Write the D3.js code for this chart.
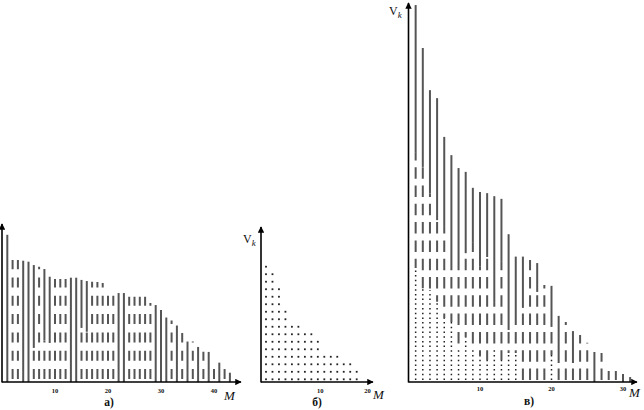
<!DOCTYPE html>
<html>
<head>
<meta charset="utf-8">
<script src="https://cdn.jsdelivr.net/npm/d3@7"></script>
<style>
body { margin: 0; background: #fff; }
svg { display: block; }
text { font-family: "Liberation Serif", "DejaVu Serif", serif; fill: #111; }
.tick { font-size: 6.5px; font-weight: bold; }
.mlab { font-size: 13px; font-style: italic; }
.plab { font-size: 11.5px; font-weight: bold; }
</style>
</head>
<body>
<svg id="chart" width="644" height="410"></svg>
<script>
// --- panel a) : top of each column (M = 1..43) and where the solid part starts (null = all dashed)
const aTop = [92, 76.3, 76.3, 75.8, 75.2, 73.1, 72, 70.6, 65.8, 64.4, 64.4, 64.4, 65.2, 65.2, 63.8,
  63.1, 62.7, 62.5, 61.9, 58.8, 57.5, 55.6, 55.6, 53.3, 53.3, 53.3, 53.3, 49.4, 48.1, 45,
  40.3, 38.4, 35.3, 30.6, 25.3, 25.3, 21.9, 18.9, 18.8, 8.1, 12.1, 8.1, 5.8];
const aSolidFrom = [0, null, null, 0, 0, 21.3, null, 26, 24.4, null, null, null, 0, 0, 33.8,
  31.4, null, null, null, null, null, 0, 0, null, null, null, null, null, 0, 0,
  0, null, 0, null, 0, null, 0, null, 0, null, 0, null, 0];
const aTicks = [10, 20, 30, 40];

// --- panel б) : number of dots in each column
const bCounts = [16, 15, 13, 10, 8, 8, 7, 7, 6, 4, 4, 4, 3, 3, 2];
const bRows = 16;
const bTicks = [10, 20];

// --- panel в) : top, start of solid part (null = no solid), top of dotted part (M = 1..31)
const vTop = [99.2, 87.9, 76.8, 74.7, 64.5, 59.7, 56.3, 55.3, 51.1, 50, 49.7, 48.9, 48.2, 38.9, 33,
  33, 32.1, 31.3, 25.5, 25.3, 17.4, 15.8, 13.4, 12.4, 10.3, 7.9, 7.6, 2.9, 2.9, 2.1, 1.3];
const vSolidFrom = [60.3, 56.6, 49.7, 42.6, 40.8, 32.1, 31.3, 33.9, 36.6, 30.3, 32.9, 20.8, 31.6, 13.7, 17.1,
  19.5, null, 23.7, null, 14.5, 5, null, 5, null, null, 0, null, null, null, 0, 0];
const vDotTop = [30, 24.7, 24.2, 21.1, 16.8, 15.8, 8.9, 11.8, 8.4, 7.1, 5.8, 8.9, 5.8, 7.6, 7.6,
  0, 0, 0, 0, 7.1, 0, 0, 0, 0, 0, 0, 0, 0, 0, 0, 0];
const vTicks = [10, 20, 30];

const svg = d3.select("#chart");
const base = 382;

svg.append("defs").append("marker")
    .attr("id", "arrow")
    .attr("viewBox", "0 0 10 10")
    .attr("refX", 9).attr("refY", 5)
    .attr("markerWidth", 4.5).attr("markerHeight", 4)
    .attr("orient", "auto")
  .append("path")
    .attr("d", "M0,0L10,5L0,10z")
    .attr("fill", "#000");

function drawAxes(g, x0, xEnd, yTop) {
    g.append("line")
        .attr("x1", x0).attr("y1", base + 0.5).attr("x2", x0).attr("y2", yTop)
        .attr("stroke", "#000").attr("stroke-width", 1.6)
        .attr("marker-end", "url(#arrow)");
    g.append("line")
        .attr("x1", x0).attr("y1", base).attr("x2", xEnd).attr("y2", base)
        .attr("stroke", "#000").attr("stroke-width", 1.6)
        .attr("marker-end", "url(#arrow)");
}

function vkLabel(g, x, y) {
    const t = g.append("text").attr("x", x).attr("y", y).style("font-size", "12px");
    t.append("tspan").text("V");
    t.append("tspan").attr("dy", 3).style("font-style", "italic").style("font-size", "9px").text("k");
}

// build segments: dotted [0, dot], dashed [dot, solid], solid [solid, top]
function buildSegments(tops, solidFrom, dotTop) {
    const segs = [];
    tops.forEach((top, i) => {
        const m = i + 1;
        const dot = dotTop ? dotTop[i] : 0;
        const solid = solidFrom[i] === null ? top : solidFrom[i];
        if (dot > 0) segs.push({ m: m, from: 0, to: Math.min(dot, top), kind: "dot" });
        if (solid > dot) segs.push({ m: m, from: dot, to: solid, kind: "dash" });
        if (top > solid) segs.push({ m: m, from: solid, to: top, kind: "solid" });
    });
    return segs;
}

function drawColumns(g, x, y, segs, dash) {
    g.selectAll("line.col")
        .data(segs)
        .join("line")
        .attr("class", "col")
        .attr("x1", d => x(d.m)).attr("x2", d => x(d.m))
        .attr("y1", d => y(d.from)).attr("y2", d => y(d.to))
        .attr("stroke", d => d.kind === "dot" ? "#222" : "#555")
        .attr("stroke-width", d => d.kind === "dot" ? 1.5 : 2)
        .attr("stroke-dasharray", d => {
            if (d.kind === "dash") return dash.on + " " + dash.off;
            if (d.kind === "dot") return "1.5 3.2";
            return null;
        })
        .attr("stroke-dashoffset", d => {
            const rise = y(0) - y(d.from);
            if (d.kind === "dash") return dash.on + dash.off - dash.lead + rise;
            if (d.kind === "dot") return 4.7 - 2 + rise;
            return null;
        });
}

function drawTicks(g, x, ticks, yPos) {
    g.selectAll("text.tick")
        .data(ticks)
        .join("text")
        .attr("class", "tick")
        .attr("x", d => x(d)).attr("y", yPos)
        .attr("text-anchor", "middle")
        .text(d => d);
}

// ---------- panel a)
const gA = svg.append("g");
const xA = d3.scaleLinear().domain([0, 43]).range([2, 2 + 43 * 5.3]);
const yA = d3.scaleLinear().domain([0, 100]).range([base, 222]);
drawColumns(gA, xA, yA, buildSegments(aTop, aSolidFrom, null), { on: 10, off: 8.3, lead: 3 });
drawAxes(gA, 2, 241, 224);
drawTicks(gA, xA, aTicks, 393);
gA.append("text").attr("class", "mlab").attr("x", 224).attr("y", 400).text("M");
gA.append("text").attr("class", "plab").attr("x", 109).attr("y", 406)
    .attr("text-anchor", "middle").text("а)");

// ---------- panel б)
const gB = svg.append("g");
const xBcol = d3.scalePoint().domain(d3.range(bCounts.length)).range([266, 356.7]);
const yBrow = d3.scalePoint().domain(d3.range(bRows)).range([379.3, 266.7]);
const xBtick = d3.scaleLinear().domain([0, 20]).range([273, 367.5]);
const bDots = [];
bCounts.forEach((n, c) => d3.range(n).forEach(r => bDots.push({ c: c, r: r })));
gB.selectAll("rect.dot")
    .data(bDots)
    .join("rect")
    .attr("class", "dot")
    .attr("x", d => xBcol(d.c) - 0.9).attr("y", d => yBrow(d.r) - 0.9)
    .attr("width", 1.8).attr("height", 1.8)
    .attr("fill", "#222");
drawAxes(gB, 261, 373, 227);
drawTicks(gB, xBtick, bTicks, 392.5);
vkLabel(gB, 243, 243);
gB.append("text").attr("class", "mlab").attr("x", 373).attr("y", 399).text("M");
gB.append("text").attr("class", "plab").attr("x", 317).attr("y", 406)
    .attr("text-anchor", "middle").text("б)");

// ---------- panel в)
const gV = svg.append("g");
const xV = d3.scaleLinear().domain([0, 31]).range([408.5, 408.5 + 31 * 7.15]);
const yV = d3.scaleLinear().domain([0, 100]).range([base, 2]);
drawColumns(gV, xV, yV, buildSegments(vTop, vSolidFrom, vDotTop), { on: 11.5, off: 6.8, lead: 2 });
drawAxes(gV, 408.5, 637, 3);
drawTicks(gV, xV, vTicks, 391);
vkLabel(gV, 389, 15);
gV.append("text").attr("class", "mlab").attr("x", 629).attr("y", 397).text("M");
gV.append("text").attr("class", "plab").attr("x", 529).attr("y", 405)
    .attr("text-anchor", "middle").text("в)");
</script>
</body>
</html>
